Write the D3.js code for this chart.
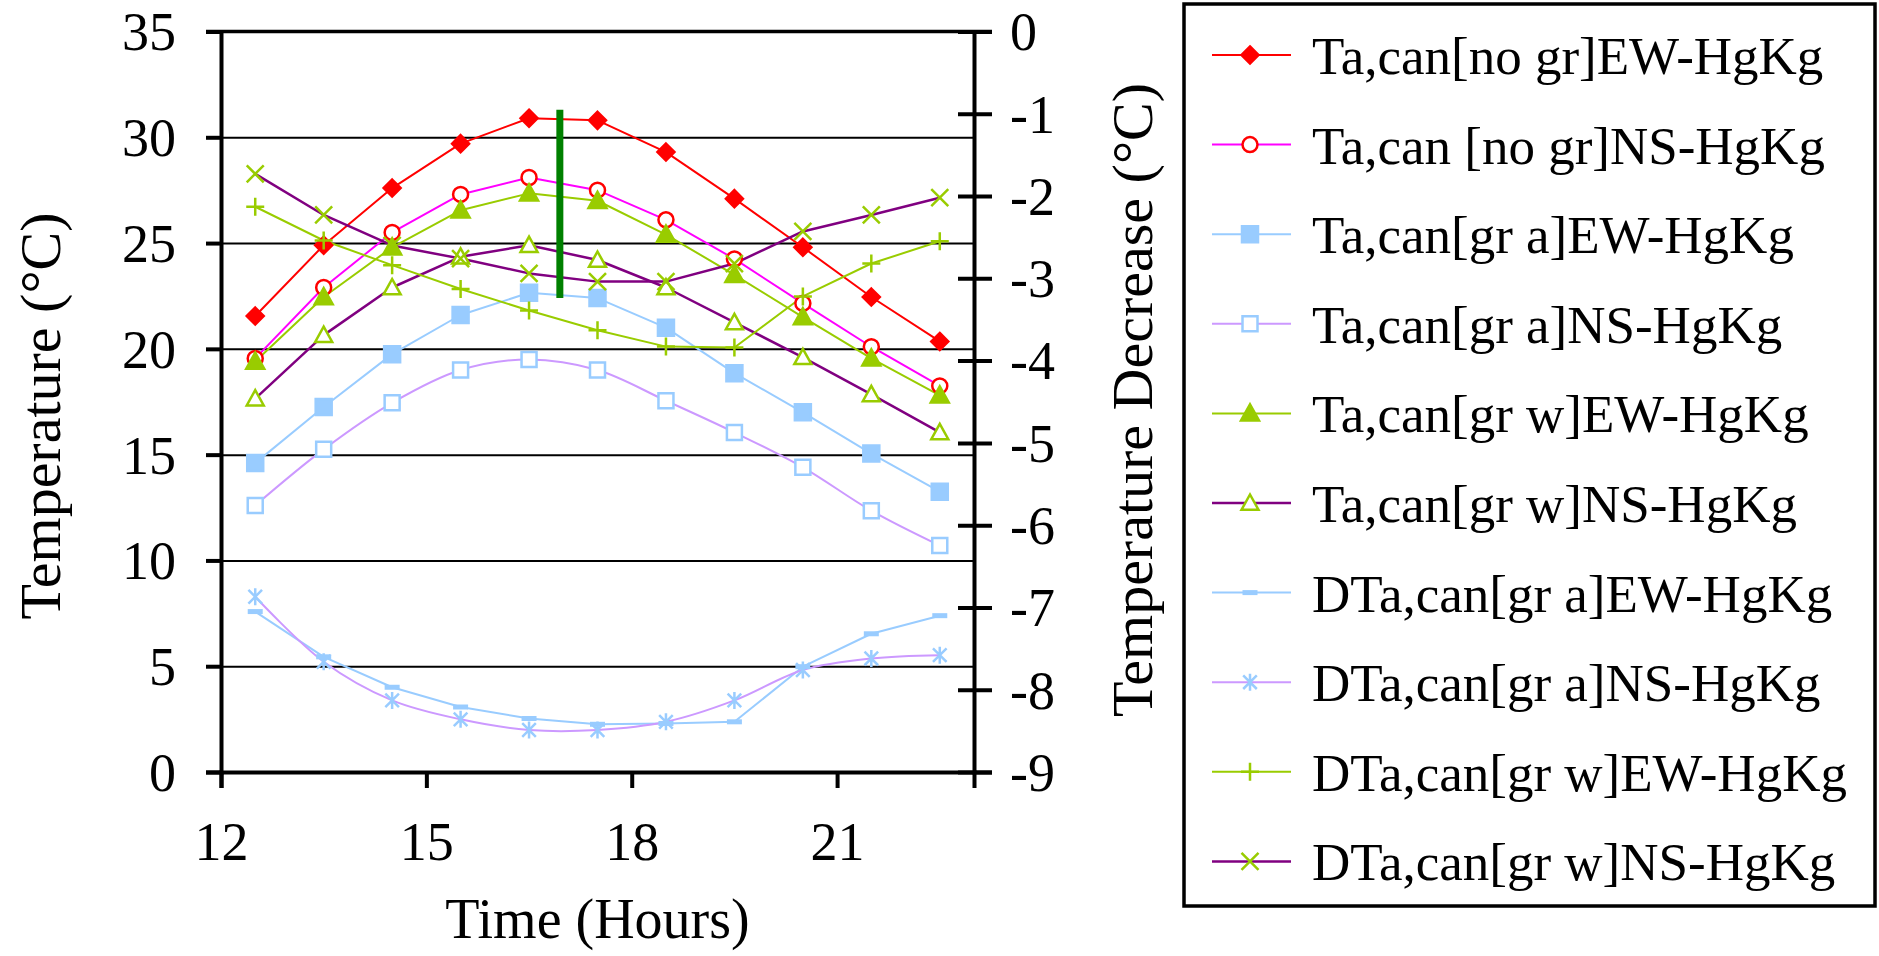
<!DOCTYPE html>
<html><head><meta charset="utf-8">
<script src="https://cdn.jsdelivr.net/npm/d3@7"></script>
<style>
body{margin:0;background:#fff}
svg text{font-family:"Liberation Serif","Times New Roman",serif;fill:#000}
</style>
</head><body>
<svg id="chart" width="1879" height="956"></svg>
<script>
// ---------- data ----------
const hours = [12.5, 13.5, 14.5, 15.5, 16.5, 17.5, 18.5, 19.5, 20.5, 21.5, 22.5];
const xTicks = [12, 15, 18, 21];
const leftTicks = [0, 5, 10, 15, 20, 25, 30, 35];
const rightTicks = [0, -1, -2, -3, -4, -5, -6, -7, -8, -9];
const seriesNames = [
  "Ta,can[no gr]EW-HgKg",
  "Ta,can [no gr]NS-HgKg",
  "Ta,can[gr a]EW-HgKg",
  "Ta,can[gr a]NS-HgKg",
  "Ta,can[gr w]EW-HgKg",
  "Ta,can[gr w]NS-HgKg",
  "DTa,can[gr a]EW-HgKg",
  "DTa,can[gr a]NS-HgKg",
  "DTa,can[gr w]EW-HgKg",
  "DTa,can[gr w]NS-HgKg"
];
const taNoGrEW = [21.55, 24.9, 27.6, 29.7, 30.9, 30.8, 29.3, 27.1, 24.8, 22.45, 20.35];
const taNoGrNS = [19.55, 22.9, 25.5, 27.3, 28.1, 27.5, 26.1, 24.25, 22.15, 20.1, 18.25];
const taGrAEW  = [14.6, 17.25, 19.75, 21.6, 22.65, 22.4, 21.0, 18.85, 17.0, 15.05, 13.25];
const taGrANS  = [12.6, 15.25, 17.45, 19.0, 19.5, 19.0, 17.55, 16.05, 14.4, 12.35, 10.7];
const taGrWEW  = [19.4, 22.45, 24.8, 26.55, 27.35, 27.0, 25.4, 23.5, 21.5, 19.55, 17.8];
const taGrWNS  = [17.65, 20.65, 22.9, 24.35, 24.9, 24.2, 22.9, 21.25, 19.6, 17.85, 16.05];
const dtaGrAEW = [-7.05, -7.6, -7.97, -8.21, -8.35, -8.42, -8.41, -8.39, -7.72, -7.32, -7.1];
const dtaGrANS = [-6.87, -7.66, -8.13, -8.36, -8.49, -8.49, -8.39, -8.13, -7.76, -7.62, -7.58];
const dtaGrWEW = [-2.13, -2.54, -2.84, -3.13, -3.39, -3.63, -3.83, -3.84, -3.22, -2.82, -2.55];
const dtaGrWNS = [-1.73, -2.23, -2.6, -2.76, -2.94, -3.04, -3.04, -2.82, -2.43, -2.23, -2.02];
const markLine = {hour: 16.95, from: 22.4, to: 31.3};

// ---------- styles ----------
const series = [
  {values: taNoGrEW, axis: "L", color: "#FF0000", lw: 2, marker: "diamond", fill: "#FF0000", stroke: "#FF0000", size: 17},
  {values: taNoGrNS, axis: "L", color: "#FF00FF", lw: 2, marker: "circle", fill: "#fff", stroke: "#FF0000", size: 15},
  {values: taGrAEW,  axis: "L", color: "#99CCFF", lw: 2, marker: "square", fill: "#99CCFF", stroke: "#99CCFF", size: 16},
  {values: taGrANS,  axis: "L", color: "#CC99FF", lw: 2, smooth: true, marker: "square", fill: "#fff", stroke: "#99CCFF", size: 15},
  {values: taGrWEW,  axis: "L", color: "#99CC00", lw: 2, marker: "triangle", fill: "#99CC00", stroke: "#99CC00", size: 18},
  {values: taGrWNS,  axis: "L", color: "#800080", lw: 2.5, marker: "triangle", fill: "#fff", stroke: "#99CC00", size: 17},
  {values: dtaGrAEW, axis: "R", color: "#99CCFF", lw: 2, marker: "dash", fill: "none", stroke: "#99CCFF", size: 15},
  {values: dtaGrANS, axis: "R", color: "#CC99FF", lw: 2, smooth: true, marker: "asterisk", fill: "none", stroke: "#99CCFF", size: 17},
  {values: dtaGrWEW, axis: "R", color: "#99CC00", lw: 2, marker: "plus", fill: "none", stroke: "#99CC00", size: 18},
  {values: dtaGrWNS, axis: "R", color: "#800080", lw: 2.5, marker: "x", fill: "none", stroke: "#99CC00", size: 17}
];
series.forEach((s, i) => s.name = seriesNames[i]);

function markerPath(type, size) {
  const r = size / 2;
  switch (type) {
    case "diamond": return `M0,${-r}L${r},0L0,${r}L${-r},0Z`;
    case "circle": return `M${r},0A${r},${r} 0 1 1 ${-r},0A${r},${r} 0 1 1 ${r},0Z`;
    case "square": return `M${-r},${-r}H${r}V${r}H${-r}Z`;
    case "triangle": return `M0,${-r}L${r},${r * 0.8}L${-r},${r * 0.8}Z`;
    case "dash": return `M${-r},0H${r}`;
    case "plus": return `M${-r},0H${r}M0,${-r}V${r}`;
    case "x": return `M${-r},${-r}L${r},${r}M${r},${-r}L${-r},${r}`;
    case "asterisk": { const q = r * 0.8; return `M${-q},${-q}L${q},${q}M${q},${-q}L${-q},${q}M0,${-r}V${r}`; }
  }
}
function markerWidth(type) {
  return type === "dash" ? 5 : 2.5;
}

// ---------- layout ----------
const svg = d3.select("#chart");
const L = 221, R = 974, T = 31.5, B = 772;
const x = d3.scaleLinear().domain([12, 23]).range([L, R]);
const yL = d3.scaleLinear().domain([0, 35]).range([B, T]);
const yR = d3.scaleLinear().domain([-9, 0]).range([B, T]);

svg.append("rect").attr("width", 1879).attr("height", 956).attr("fill", "#fff");

// gridlines
svg.append("g")
  .attr("transform", `translate(${L},0)`)
  .call(d3.axisLeft(yL).tickValues(leftTicks.filter(v => v > 0 && v < 35)).tickSize(-(R - L)).tickFormat(""))
  .call(g => g.select(".domain").remove())
  .call(g => g.selectAll("line").attr("stroke", "#000").attr("stroke-width", 2));

// top border line
svg.append("line").attr("x1", L - 15).attr("x2", R + 18).attr("y1", yL(35)).attr("y2", yL(35))
  .attr("stroke", "#000").attr("stroke-width", 3.5);

// left axis
const gL = svg.append("g").attr("transform", `translate(${L},0)`)
  .call(d3.axisLeft(yL).tickValues(leftTicks).tickSizeOuter(0).tickSize(15).tickPadding(30));
gL.select(".domain").attr("stroke", "#000").attr("stroke-width", 4);
gL.selectAll(".tick line").attr("stroke", "#000").attr("stroke-width", 4);
gL.selectAll(".tick text").style("font-size", "54px").attr("dy", "0.34em");

// right axis
const gR = svg.append("g").attr("transform", `translate(${R},0)`)
  .call(d3.axisRight(yR).tickValues(rightTicks).tickSizeOuter(0).tickSize(18).tickPadding(18)
    .tickFormat(d => d === 0 ? "0" : "-" + Math.abs(d)));
gR.select(".domain").attr("stroke", "#000").attr("stroke-width", 4);
gR.selectAll(".tick line").attr("x1", -16).attr("stroke", "#000").attr("stroke-width", 4);
gR.selectAll(".tick text").style("font-size", "54px").attr("dy", "0.34em");

// bottom axis
const gB = svg.append("g").attr("transform", `translate(0,${B})`)
  .call(d3.axisBottom(x).tickValues(xTicks).tickSizeOuter(0).tickSize(16).tickPadding(34));
gB.select(".domain").attr("stroke", "#000").attr("stroke-width", 4);
gB.selectAll(".tick line").attr("stroke", "#000").attr("stroke-width", 4);
gB.selectAll(".tick text").style("font-size", "54px");

// axis titles
svg.append("text").attr("transform", "translate(60,416) rotate(-90)")
  .attr("text-anchor", "middle").style("font-size", "58px").text("Temperature (°C)");
svg.append("text").attr("transform", "translate(1152,400) rotate(-90)")
  .attr("text-anchor", "middle").style("font-size", "58px").text("Temperature Decrease (°C)");
svg.append("text").attr("x", (L + R) / 2).attr("y", 938)
  .attr("text-anchor", "middle").style("font-size", "56px").text("Time (Hours)");

// series lines
series.forEach(s => {
  const yS = s.axis === "L" ? yL : yR;
  const line = d3.line().x((d, i) => x(hours[i])).y(d => yS(d))
    .curve(s.smooth ? d3.curveCatmullRom.alpha(0.5) : d3.curveLinear);
  svg.append("path").datum(s.values).attr("d", line)
    .attr("fill", "none").attr("stroke", s.color).attr("stroke-width", s.lw).attr("stroke-linejoin", "round");
});
// markers
series.forEach(s => {
  const yS = s.axis === "L" ? yL : yR;
  svg.append("g").selectAll("path").data(s.values).join("path")
    .attr("transform", (d, i) => `translate(${x(hours[i])},${yS(d)})`)
    .attr("d", markerPath(s.marker, s.size))
    .attr("fill", s.fill).attr("stroke", s.stroke).attr("stroke-width", markerWidth(s.marker));
});

// green vertical line
svg.append("line").attr("x1", x(markLine.hour)).attr("x2", x(markLine.hour))
  .attr("y1", yL(markLine.to)).attr("y2", yL(markLine.from))
  .attr("stroke", "#008000").attr("stroke-width", 7);

// legend
const lg = svg.append("g");
lg.append("rect").attr("x", 1184).attr("y", 4).attr("width", 691).attr("height", 902)
  .attr("fill", "#fff").attr("stroke", "#000").attr("stroke-width", 3.5);
series.forEach((s, i) => {
  const yy = 55 + i * 89.6;
  lg.append("line").attr("x1", 1212).attr("x2", 1291).attr("y1", yy).attr("y2", yy)
    .attr("stroke", s.color).attr("stroke-width", s.lw);
  lg.append("path").attr("transform", `translate(1250,${yy})`).attr("d", markerPath(s.marker, s.size))
    .attr("fill", s.fill).attr("stroke", s.stroke).attr("stroke-width", markerWidth(s.marker));
  lg.append("text").attr("x", 1312).attr("y", yy + 19).style("font-size", "53px").text(s.name);
});
</script>
</body></html>
